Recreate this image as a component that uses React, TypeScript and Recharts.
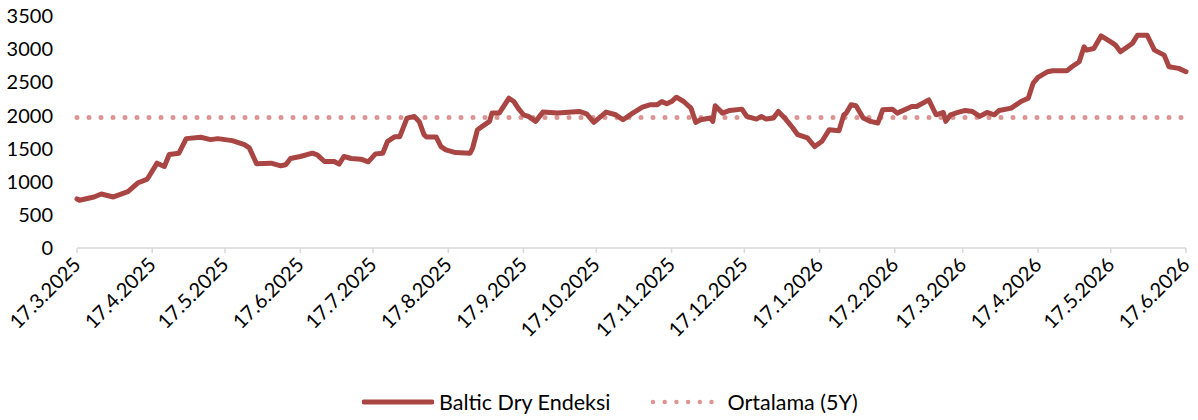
import { LineChart, Line, XAxis, YAxis, ReferenceLine, Legend } from 'recharts';

// Baltic Dry Index
const dates = [
  '2025-03-17', '2025-03-18', '2025-03-24', '2025-03-27', '2025-04-01', '2025-04-07', '2025-04-11',
  '2025-04-15', '2025-04-19', '2025-04-22', '2025-04-24', '2025-04-28', '2025-05-01', '2025-05-07',
  '2025-05-11', '2025-05-14', '2025-05-20', '2025-05-25', '2025-05-27', '2025-05-30', '2025-06-05',
  '2025-06-09', '2025-06-11', '2025-06-13', '2025-06-17', '2025-06-22', '2025-06-24', '2025-06-27',
  '2025-07-01', '2025-07-03', '2025-07-05', '2025-07-08', '2025-07-12', '2025-07-15', '2025-07-18',
  '2025-07-21', '2025-07-23', '2025-07-26', '2025-07-28', '2025-07-31', '2025-08-03', '2025-08-05',
  '2025-08-07', '2025-08-08', '2025-08-12', '2025-08-14', '2025-08-16', '2025-08-20', '2025-08-26',
  '2025-08-27', '2025-08-29', '2025-08-31', '2025-09-03', '2025-09-04', '2025-09-07', '2025-09-11',
  '2025-09-13', '2025-09-15', '2025-09-17', '2025-09-19', '2025-09-22', '2025-09-25', '2025-10-01',
  '2025-10-10', '2025-10-13', '2025-10-16', '2025-10-21', '2025-10-25', '2025-10-28', '2025-11-01',
  '2025-11-05', '2025-11-08', '2025-11-11', '2025-11-13', '2025-11-15', '2025-11-17', '2025-11-19',
  '2025-11-22', '2025-11-25', '2025-11-27', '2025-11-29', '2025-12-03', '2025-12-04', '2025-12-05',
  '2025-12-08', '2025-12-11', '2025-12-16', '2025-12-18', '2025-12-22', '2025-12-24', '2025-12-26',
  '2025-12-29', '2025-12-31', '2026-01-03', '2026-01-06', '2026-01-08', '2026-01-12', '2026-01-15',
  '2026-01-18', '2026-01-21', '2026-01-25', '2026-01-27', '2026-01-28', '2026-01-30', '2026-02-01',
  '2026-02-04', '2026-02-07', '2026-02-10', '2026-02-12', '2026-02-16', '2026-02-18', '2026-02-24',
  '2026-02-26', '2026-03-03', '2026-03-06', '2026-03-09', '2026-03-10', '2026-03-12', '2026-03-15',
  '2026-03-18', '2026-03-21', '2026-03-24', '2026-03-27', '2026-03-30', '2026-04-01', '2026-04-06',
  '2026-04-10', '2026-04-13', '2026-04-15', '2026-04-17', '2026-04-21', '2026-04-23', '2026-04-29',
  '2026-05-01', '2026-05-04', '2026-05-06', '2026-05-07', '2026-05-10', '2026-05-13', '2026-05-17',
  '2026-05-19', '2026-05-21', '2026-05-26', '2026-05-28', '2026-06-01', '2026-06-04', '2026-06-08',
  '2026-06-10', '2026-06-14', '2026-06-17',
];

const bdiValues = [
  740, 720, 770, 815, 770, 850, 980,
  1040, 1280, 1230, 1410, 1430, 1650, 1670,
  1635, 1650, 1620, 1560, 1510, 1270, 1280,
  1240, 1255, 1350, 1380, 1430, 1405, 1305,
  1305, 1265, 1380, 1350, 1340, 1300, 1420,
  1430, 1610, 1680, 1680, 1960, 1985, 1910,
  1710, 1675, 1675, 1530, 1480, 1440, 1430,
  1505, 1780, 1835, 1910, 2035, 2035, 2260,
  2210, 2100, 2010, 1985, 1910, 2050, 2035,
  2060, 2025, 1895, 2050, 2010, 1935, 2035,
  2125, 2160, 2160, 2210, 2175, 2210, 2275,
  2210, 2110, 1895, 1935, 1960, 1910, 2145,
  2035, 2075, 2095, 1985, 1945, 1985, 1945,
  1960, 2060, 1945, 1810, 1710, 1660, 1530,
  1610, 1785, 1770, 2010, 2035, 2160, 2145,
  1960, 1910, 1885, 2085, 2095, 2035, 2135,
  2135, 2235, 2010, 2045, 1910, 2010, 2045,
  2075, 2060, 1985, 2045, 2010, 2075, 2110,
  2210, 2260, 2485, 2575, 2660, 2675, 2675,
  2735, 2810, 3035, 2985, 3010, 3200, 3110,
  3060, 2960, 3090, 3210, 3210, 2985, 2910,
  2735, 2710, 2660,
];

const averageValue = 1970;

const yTicks = [0, 500, 1000, 1500, 2000, 2500, 3000, 3500];

const xTickDates = [
  '2025-03-17', '2025-04-17', '2025-05-17', '2025-06-17', '2025-07-17', '2025-08-17', '2025-09-17',
  '2025-10-17', '2025-11-17', '2025-12-17', '2026-01-17', '2026-02-17', '2026-03-17', '2026-04-17',
  '2026-05-17', '2026-06-17',
];

const LINE_COLOR = '#A94643';
const AVG_COLOR = '#D99694';
const FONT = 'Lato, "Open Sans", sans-serif';

const toTs = (s: string) => Date.parse(s + 'T00:00:00Z');

function fmtDate(ts: number) {
  const d = new Date(ts);
  return `${d.getUTCDate()}.${d.getUTCMonth() + 1}.${d.getUTCFullYear()}`;
}

const data = dates.map((d, i) => ({ t: toTs(d), bdi: bdiValues[i] }));

function XTick(props: any) {
  const { x, y, payload } = props;
  const ax = x + 5;
  const ay = y + 13;
  return (
    <text
      x={ax}
      y={ay}
      textAnchor="end"
      transform={`rotate(-45, ${ax}, ${ay})`}
      fontSize={20}
      fontFamily={FONT}
      fill="#000"
    >
      {fmtDate(payload.value)}
    </text>
  );
}

function LegendBox() {
  return (
    <div
      style={{
        width: 1198,
        height: 28,
        display: 'flex',
        alignItems: 'center',
        paddingLeft: 362,
        boxSizing: 'border-box',
        fontFamily: FONT,
        fontSize: 21.5,
        color: '#000',
      }}
    >
      <svg width={72} height={10}>
        <line x1={2} y1={5} x2={70} y2={5} stroke={LINE_COLOR} strokeWidth={5} strokeLinecap="round" />
      </svg>
      <span style={{ marginLeft: 5 }}>Baltic Dry Endeksi</span>
      <svg width={66} height={10} style={{ marginLeft: 40 }}>
        <line
          x1={3}
          y1={5}
          x2={64}
          y2={5}
          stroke={AVG_COLOR}
          strokeWidth={4.5}
          strokeDasharray="0 11.7"
          strokeLinecap="round"
        />
      </svg>
      <span style={{ marginLeft: 11 }}>Ortalama (5Y)</span>
    </div>
  );
}

export default function App() {
  return (
    <div style={{ position: 'absolute', left: 0, top: 0, width: 1198, height: 420, background: '#fff' }}>
      <LineChart width={1198} height={420} data={data} margin={{ top: 16, right: 12, bottom: 4, left: 0 }}>
        <XAxis
          dataKey="t"
          type="number"
          scale="time"
          domain={[toTs('2025-03-17'), toTs('2026-06-17')]}
          ticks={xTickDates.map(toTs)}
          interval={0}
          height={140}
          tickSize={5}
          tickMargin={0}
          stroke="#D9D9D9"
          axisLine={{ stroke: '#D9D9D9', strokeWidth: 1.5 }}
          tickLine={{ stroke: '#D9D9D9', strokeWidth: 1.5 }}
          tick={<XTick />}
        />
        <YAxis
          domain={[0, 3500]}
          ticks={yTicks}
          interval={0}
          width={77}
          axisLine={false}
          tickLine={false}
          tickSize={0}
          tickMargin={24}
          tick={{ fontSize: 20, fill: '#000', fontFamily: FONT }}
        />
        <ReferenceLine
          y={averageValue}
          stroke={AVG_COLOR}
          strokeWidth={5}
          strokeDasharray="0 12"
          strokeLinecap="round"
        />
        <Line
          type="linear"
          dataKey="bdi"
          name="Baltic Dry Endeksi"
          stroke={LINE_COLOR}
          strokeWidth={5}
          strokeLinejoin="round"
          strokeLinecap="round"
          dot={false}
          activeDot={false}
          isAnimationActive={false}
        />
        <Legend verticalAlign="bottom" align="left" height={28} width={1198} content={() => <LegendBox />} />
      </LineChart>
    </div>
  );
}
